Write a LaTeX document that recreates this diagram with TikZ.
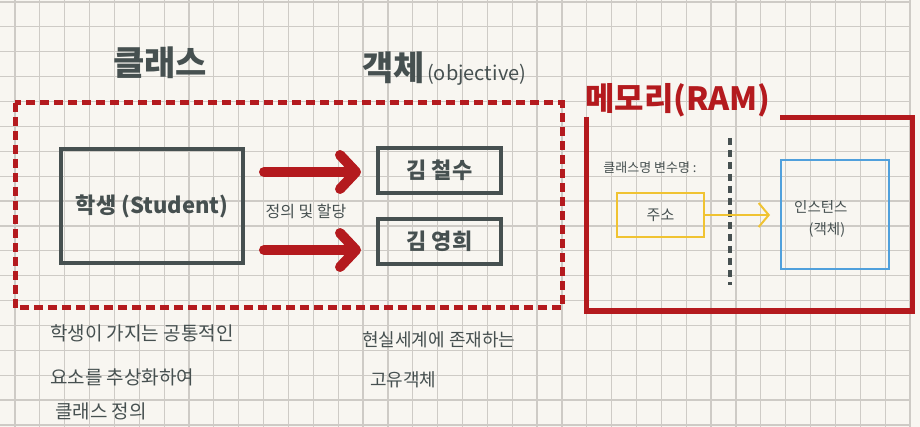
\documentclass[tikz,border=0pt]{standalone}
\usepackage{fontspec}
\setmainfont{Noto Sans CJK KR}
\usetikzlibrary{arrows.meta,calc}
\definecolor{ink}{RGB}{70,80,80}
\definecolor{notered}{RGB}{180,26,30}
\definecolor{noteyellow}{RGB}{240,195,50}
\definecolor{noteblue}{RGB}{80,160,220}
\definecolor{gridc}{RGB}{206,203,198}
\definecolor{paper}{RGB}{248,246,241}
\tikzset{
  gridline/.style={draw=gridc, line width=1.2pt},
  inkbox/.style={draw=ink, line width=4pt, inner sep=0pt, text=ink},
  inktext/.style={text=ink, inner sep=0pt},
  redarrow/.style={draw=notered, line width=10pt, line cap=round, line join=round,
    -{Straight Barb[round, length=16pt, width=34pt]}},
  reddash/.style={draw=notered, line width=5pt, dash pattern=on 9pt off 5pt},
  redframe/.style={draw=notered, line width=5pt, line join=miter},
  yellowarrow/.style={draw=noteyellow, line width=2pt,
    -{Straight Barb[length=10pt, width=24pt]}},
  graydash/.style={draw=ink, line width=4pt, dash pattern=on 7pt off 5pt}
}
\begin{document}
\begin{tikzpicture}[x=1pt,y=-1pt]
\useasboundingbox (0,0) rectangle (920,427);
\fill[paper] (0,0) rectangle (920,427);
% grid
\foreach \i in {0,...,36}{
  \pgfmathsetmacro{\gx}{15+24.86*\i}
  \draw[gridline] (\gx,0) -- (\gx,427);
}
\foreach \j in {0,...,17}{
  \pgfmathsetmacro{\gy}{2+24.88*\j}
  \draw[gridline] (0,\gy) -- (910,\gy);
}

% titles
\node[inktext, font=\bfseries\fontsize{34}{34}\selectfont] (classtitle) at (160,63) {클래스};
\node[inktext, font=\bfseries\fontsize{34}{34}\selectfont, anchor=west] (objtitle) at (362,68) {객체};
\node[inktext, font=\fontsize{20}{20}\selectfont, anchor=base west] (objsub) at ($(objtitle.base east)+(2,0)$) {(objective)};

% class area
\coordinate (dashtl) at (15,103);
\coordinate (dashbr) at (562,308);
\draw[reddash] (dashtl) rectangle (dashbr);

\node[inkbox, minimum width=182pt, minimum height=114pt, font=\bfseries\fontsize{22}{22}\selectfont] (student) at (152,206) {학생 (Student)};
\node[inkbox, minimum width=123pt, minimum height=45pt, font=\bfseries\fontsize{22}{22}\selectfont] (kim1) at (439.5,170.5) {김 철수};
\node[inkbox, minimum width=123pt, minimum height=45pt, font=\bfseries\fontsize{22}{22}\selectfont] (kim2) at (439.5,241.5) {김 영희};

\draw[redarrow, shorten <=19pt, shorten >=15pt] ([yshift=-1.5pt]student.east |- kim1.west) -- ([yshift=-1.5pt]kim1.west);
\draw[redarrow, shorten <=19pt, shorten >=15pt] ([yshift=-8.5pt]student.east |- kim2.west) -- ([yshift=-8.5pt]kim2.west);
\node[inktext, font=\fontsize{16}{16}\selectfont] (deflabel) at (306,211) {정의 및 할당};

% notes below
\node[inktext, anchor=west, font=\fontsize{19}{19}\selectfont] (note1) at (50,333) {학생이 가지는 공통적인};
\node[inktext, anchor=west, font=\fontsize{19}{19}\selectfont] (note2) at (50,377) {요소를 추상화하여};
\node[inktext, anchor=west, font=\fontsize{19}{19}\selectfont] (note3) at (55,411) {클래스 정의};
\node[inktext, anchor=west, font=\fontsize{18}{18}\selectfont] (note4) at (362,340) {현실세계에 존재하는};
\node[inktext, anchor=west, font=\fontsize{18}{18}\selectfont] (note5) at (370,380) {고유객체};

% memory area
\node[text=notered, inner sep=0pt, anchor=west, font=\bfseries\fontsize{32}{32}\selectfont] (ram) at (585,100) {메모리(RAM)};
\coordinate (frametl) at (586,117);
\coordinate (framebl) at (586,311);
\coordinate (framebr) at (912,311);
\coordinate (frametr) at (912,118);
\coordinate (frametop) at (780,118);
\draw[redframe] (frametl) -- (framebl) -- (framebr) -- (frametr) -- (frametop);

\node[inktext, font=\fontsize{13}{13}\selectfont] (varlabel) at (650,168) {클래스명 변수명 :};
\node[draw=noteyellow, line width=2pt, inner sep=0pt, minimum width=87pt, minimum height=44pt, text=ink, font=\fontsize{15}{15}\selectfont] (addr) at (660.5,215) {주소};
\node[draw=noteblue, line width=2pt, inner sep=0pt, minimum width=108pt, minimum height=109pt] (inst) at (835,214.5) {};
\node[inktext, anchor=west, align=left, font=\fontsize{14.5}{22}\selectfont] (insttext) at (794,219) {인스턴스\\\hspace*{1em}(객체)};

\coordinate (divtop) at (730,138);
\coordinate (divbot) at (730,285);
\draw[graydash] (divtop) -- (divbot);

\draw[yellowarrow, shorten >=10pt] (addr.east) -- (inst.west |- addr.east);
\end{tikzpicture}
\end{document}
